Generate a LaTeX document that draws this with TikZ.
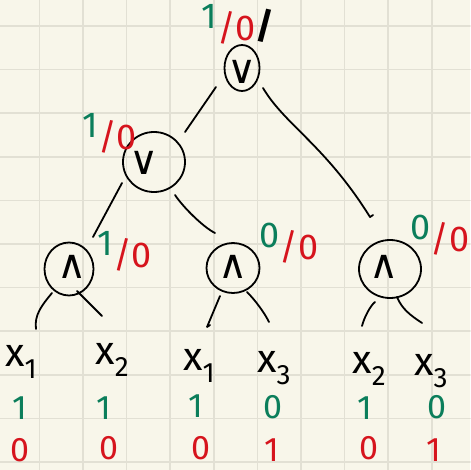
\documentclass[tikz,border=0pt]{standalone}
\usepackage{fontspec}
\setmainfont{Fira Sans}
\newfontfamily\opfont{DejaVu Sans}
\usetikzlibrary{shapes.geometric}
\definecolor{paper}{HTML}{F8F6EA}
\definecolor{gridc}{HTML}{E2E0D4}
\definecolor{grn}{HTML}{0B7E5B}
\definecolor{rd}{HTML}{D6141D}
\newcommand\xsub[1]{x\raisebox{-0.3em}{\fontsize{28}{28}\selectfont #1}}
\newcommand\gl[1]{\textcolor{grn}{\raisebox{12pt}{#1}}}
\newcommand\rl[1]{\textcolor{rd}{#1}}
\begin{document}
\begin{tikzpicture}[x=1pt,y=-1pt, line cap=round, line join=round,
  gate/.style={draw=black, line width=1.8pt, ellipse, inner sep=0pt},
  ink/.style={draw=black, line width=1.8pt},
  opsym/.style={font=\opfont\fontsize{40}{40}\selectfont, inner sep=0pt},
  lbl/.style={font=\fontsize{36}{36}\selectfont, inner sep=0pt},
  var/.style={font=\fontsize{40}{40}\selectfont, inner sep=0pt},
  val/.style={font=\fontsize{34}{34}\selectfont, inner sep=0pt}]
\fill[paper] (0,0) rectangle (470,470);
\useasboundingbox (0,0) rectangle (470,470);
\foreach \k in {0,...,9} \draw[gridc, line width=1.6pt] (39.3+43.6*\k,0) -- (39.3+43.6*\k,470);
\foreach \k in {0,...,10} \draw[gridc, line width=1.6pt] (0,26+43.6*\k) -- (470,26+43.6*\k);

% gates
\node[gate, minimum width=35, minimum height=46] (R) at (242,68) {};
\node[gate, minimum width=62, minimum height=60] (LV) at (154,162) {};
\node[gate, minimum width=49, minimum height=53] (LA) at (69,269) {};
\node[gate, minimum width=53, minimum height=50] (MA) at (233,268) {};
\node[gate, minimum width=62, minimum height=58] (RA) at (390,269) {};
\node[opsym] (Rop) at (242,72) {∨};
\node[opsym] (LVop) at (144,163) {∨};
\node[opsym] (LAop) at (72,267) {∧};
\node[opsym] (MAop) at (233,267) {∧};
\node[opsym] (RAop) at (384,267) {∧};

% gate labels
\node[lbl] (Rl) at (238,24) {\gl{1}\rl{/0}\raisebox{2pt}{\bfseries /}};
\node[lbl] (LVl) at (110,133) {\gl{1}\rl{/0}};
\node[lbl] (LAl) at (125,251) {\gl{1}\rl{/0}};
\node[lbl] (MAl) at (289,243) {\gl{0}\rl{/0}};
\node[lbl] (RAl) at (440,235) {\gl{0}\rl{/0}};

% variables
\node[var] (X1a) at (21,362) {\xsub{1}};
\node[var] (X2a) at (112,360) {\xsub{2}};
\node[var] (X1b) at (199,366) {\xsub{1}};
\node[var] (X3a) at (274,368) {\xsub{3}};
\node[var] (X2b) at (369,369) {\xsub{2}};
\node[var] (X3b) at (431,371) {\xsub{3}};

% values
\node[val, text=grn] (g1) at (20,408) {1};
\node[val, text=grn] (g2) at (104,408) {1};
\node[val, text=grn] (g3) at (196,406) {1};
\node[val, text=grn] (g4) at (273,407) {0};
\node[val, text=grn] (g5) at (365,408) {1};
\node[val, text=grn] (g6) at (437,407) {0};
\node[val, text=rd] (r1) at (20,450) {0};
\node[val, text=rd] (r2) at (109,448) {0};
\node[val, text=rd] (r3) at (201,448) {0};
\node[val, text=rd] (r4) at (272,450) {1};
\node[val, text=rd] (r5) at (369,448) {0};
\node[val, text=rd] (r6) at (434,450) {1};

% connectors
\draw[ink] ([shift={(-26,19)}]R.center) -- ([shift={(31,-30)}]LV.center);
\draw[ink] ([shift={(21,20)}]R.center) .. controls +(22,37) and +(-45,-72) .. ([shift={(-20,-52)}]RA.center) -- ++(3,-2);
\draw[ink] ([shift={(-32,21)}]LV.center) -- ([shift={(24,-32)}]LA.center);
\draw[ink] ([shift={(21,33)}]LV.center) .. controls +(8,12) and +(-12,-6) .. ([shift={(-18,-35)}]MA.center);

\draw[ink] ([shift={(-17,24)}]LA.center) .. controls +(-10,12) and +(-2,-14) .. ([shift={(15,-33)}]X1a.center);
\draw[ink] ([shift={(8,22)}]LA.center) -- ([shift={(-10,-44)}]X2a.center);
\draw[ink] ([shift={(-13,28)}]MA.center) -- ([shift={(8,-39)}]X1b.center) -- ++(3,-2);
\draw[ink] ([shift={(14,24)}]MA.center) .. controls +(8,8) and +(-5,-10) .. ([shift={(-5,-46)}]X3a.center);
\draw[ink] ([shift={(-15,33)}]RA.center) .. controls +(-5,4) and +(2,-8) .. ([shift={(-7,-43)}]X2b.center);
\draw[ink] ([shift={(7,28)}]RA.center) .. controls +(5,12) and +(-12,-8) .. ([shift={(-9,-48)}]X3b.center);
\end{tikzpicture}
\end{document}
